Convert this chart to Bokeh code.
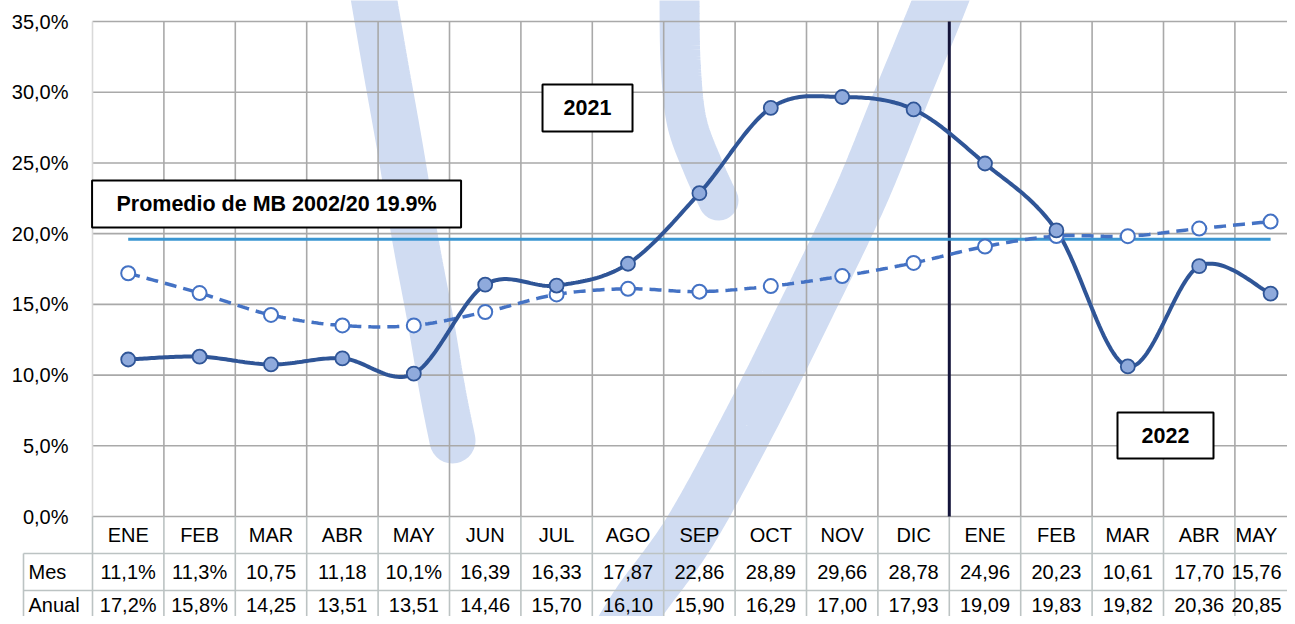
import numpy as np
from bokeh.plotting import figure
from bokeh.models import Range1d
from bokeh.core.properties import value
from bokeh.embed import file_html
from bokeh.resources import INLINE

# ---------------- data ----------------
months = ["ENE", "FEB", "MAR", "ABR", "MAY", "JUN", "JUL", "AGO", "SEP", "OCT",
          "NOV", "DIC", "ENE", "FEB", "MAR", "ABR", "MAY"]
mes = [11.1, 11.3, 10.75, 11.18, 10.1, 16.39, 16.33, 17.87, 22.86, 28.89,
       29.66, 28.78, 24.96, 20.23, 10.61, 17.70, 15.76]
anual = [17.2, 15.8, 14.25, 13.51, 13.51, 14.46, 15.70, 16.10, 15.90, 16.29,
         17.00, 17.93, 19.09, 19.83, 19.82, 20.36, 20.85]
mes_labels = ["11,1%", "11,3%", "10,75", "11,18", "10,1%", "16,39", "16,33", "17,87",
              "22,86", "28,89", "29,66", "28,78", "24,96", "20,23", "10,61", "17,70", "15,76"]
anual_labels = ["17,2%", "15,8%", "14,25", "13,51", "13,51", "14,46", "15,70", "16,10",
                "15,90", "16,29", "17,00", "17,93", "19,09", "19,83", "19,82", "20,36", "20,85"]
row_names = ["Mes", "Anual"]
y_ticks = [0, 5, 10, 15, 20, 25, 30, 35]
y_tick_labels = ["0,0%", "5,0%", "10,0%", "15,0%", "20,0%", "25,0%", "30,0%", "35,0%"]
promedio = 19.6
promedio_label = "Promedio de MB 2002/20 19.9%"
year_labels = ["2021", "2022"]
year_split = 11.5  # boundary between DIC 2021 and ENE 2022

# ---------------- layout constants ----------------
W, H = 1287, 616
COL_PX = 71.4
PCT_PX = 14.143
X0 = -0.5 - 92 / COL_PX
X1 = X0 + W / COL_PX
Y1 = 35 + 21 / PCT_PX
Y0 = Y1 - H / PCT_PX
ROW_H = 37 / PCT_PX        # table row height in % units
TABLE_LEFT = X0 + 23 / COL_PX
FONT = value("Liberation Sans")
FS = "20px"

n = len(months)
xs = np.arange(n)


def px(xp, yp):
    """convert canvas pixel position to data coordinates (decoration / layout only)"""
    return X0 + np.asarray(xp, float) / COL_PX, Y1 - np.asarray(yp, float) / PCT_PX


def smooth(x, y, steps=30):
    pts = np.column_stack([x, y]).astype(float)
    out = []
    m = len(pts)
    for i in range(m - 1):
        p0 = pts[i - 1] if i > 0 else pts[i]
        p1 = pts[i]
        p2 = pts[i + 1]
        p3 = pts[i + 2] if i + 2 < m else pts[i + 1]
        c1 = p1 + (p2 - p0) / 6.0
        c2 = p2 - (p3 - p1) / 6.0
        t = np.linspace(0, 1, steps, endpoint=(i == m - 2))[:, None]
        seg = ((1 - t) ** 3) * p1 + 3 * ((1 - t) ** 2) * t * c1 + 3 * (1 - t) * t ** 2 * c2 + t ** 3 * p2
        out.append(seg)
    out = np.vstack(out)
    return out[:, 0], out[:, 1]


p = figure(width=W, height=H, x_range=Range1d(X0, X1), y_range=Range1d(Y0, Y1),
           x_axis_type=None, y_axis_type=None, toolbar_location=None,
           output_backend="svg", min_border=0, outline_line_color=None,
           background_fill_color="white", border_fill_color="white")
p.grid.visible = False

# ---------------- background watermark (decoration) ----------------
wm_col = "#d0dcf2"
wm_paths = [
    ([372, 384, 400, 415, 430, 442, 452], [-10, 60, 150, 240, 320, 390, 440], 46),
    ([679, 680, 686, 702, 718], [-10, 60, 120, 165, 200], 40),
    ([944, 932, 895, 858, 805, 750, 690, 640, 615], [-10, 20, 110, 200, 310, 420, 530, 600, 640], 54),
]
for wx, wy, ww in wm_paths:
    sx, sy = smooth(wx, wy, 20)
    dx, dy = px(sx, sy)
    p.line(dx, dy, line_color=wm_col, line_width=ww, line_cap="round")

# ---------------- grid ----------------
grid_col = "#a9a9a9"
table_col = "#bcc3c3"
p.segment(x0=[-0.5] * len(y_ticks), y0=y_ticks, x1=[X1] * len(y_ticks), y1=y_ticks,
          line_color=grid_col, line_width=1.6)
bounds = np.arange(n + 1) - 0.5
p.segment(x0=bounds[1:], y0=[0] * n, x1=bounds[1:], y1=[35] * n,
          line_color=grid_col, line_width=1.6)
p.segment(x0=[-0.5], y0=[0], x1=[-0.5], y1=[35], line_color="#d9d9d9", line_width=1.6)
p.segment(x0=bounds, y0=[0] * (n + 1), x1=bounds, y1=[Y0] * (n + 1),
          line_color=table_col, line_width=1.6)
row_lines = [-ROW_H, -2 * ROW_H]
p.segment(x0=[TABLE_LEFT] * 2, y0=row_lines, x1=[X1] * 2, y1=row_lines,
          line_color=table_col, line_width=1.6)
p.segment(x0=[TABLE_LEFT], y0=[-ROW_H], x1=[TABLE_LEFT], y1=[Y0],
          line_color=table_col, line_width=1.6)

# ---------------- y tick labels ----------------
p.text(x=[-0.5 - 24 / COL_PX] * len(y_ticks), y=y_ticks, text=y_tick_labels,
       text_font=FONT, text_font_size=FS, text_color="black",
       text_align="right", text_baseline="middle")

# ---------------- year divider & average ----------------
p.segment(x0=[year_split], y0=[0], x1=[year_split], y1=[35],
          line_color="#14143a", line_width=3)
p.segment(x0=[xs[0]], y0=[promedio], x1=[xs[-1]], y1=[promedio],
          line_color="#3a96d2", line_width=3)

# ---------------- smoothed series ----------------
ax_, ay_ = smooth(xs, anual)
p.line(ax_, ay_, line_color="#4472c4", line_width=3.5, line_dash="12 7")
mx_, my_ = smooth(xs, mes)
p.line(mx_, my_, line_color="#2f5597", line_width=4)

p.scatter(xs, anual, size=14, fill_color="white", line_color="#4472c4", line_width=2)
p.scatter(xs, mes, size=14, fill_color="#8faadc", line_color="#2f5597", line_width=1.8)

# ---------------- annotation boxes ----------------
box_x = [6.433, 2.078, 14.528]
box_y = [28.884, 22.096, 5.727]
box_w = [90, 369, 96]
box_h = [47, 47, 46]
box_text = [year_labels[0], promedio_label, year_labels[1]]
p.rect(x=box_x, y=box_y, width=box_w, height=box_h, width_units="screen",
       height_units="screen", fill_color="white", line_color="black", line_width=2)
p.text(x=box_x, y=box_y, text=box_text, text_font=FONT, text_font_size="21.5px",
       text_font_style="bold", text_color="black", text_align="center",
       text_baseline="middle")

# ---------------- data table ----------------
# keep the last (partly hidden) column's texts inside the canvas
edge_x = X1 - 3 / COL_PX
text_x = [min(float(x), edge_x - 28 / COL_PX) for x in xs]
row_y = [-ROW_H / 2, -1.5 * ROW_H, -ROW_H * 2 - 14 / PCT_PX]
for ry, labels in zip(row_y, [months, mes_labels, anual_labels]):
    p.text(x=text_x, y=[ry] * n, text=labels, text_font=FONT, text_font_size=FS,
           text_color="black", text_align="center", text_baseline="middle")
p.text(x=[TABLE_LEFT + 5 / COL_PX] * 2, y=row_y[1:], text=row_names,
       text_font=FONT, text_font_size=FS, text_color="black",
       text_align="left", text_baseline="middle")

open("out.html", "w").write(file_html(p, INLINE))
